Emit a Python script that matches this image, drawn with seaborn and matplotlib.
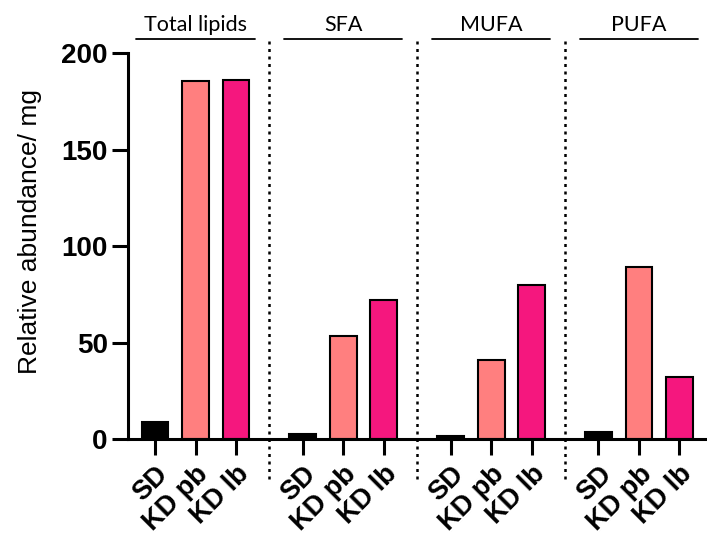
import numpy as np
import pandas as pd
import matplotlib
matplotlib.use("Agg")
import matplotlib.pyplot as plt
import matplotlib.transforms as mtransforms
import seaborn as sns

# Lipid classes and diets
classes = ["Total lipids", "SFA", "MUFA", "PUFA"]
diets = ["SD", "KD pb", "KD lb"]

# Relative abundance per mg for each class, in diet order
total_lipids = [8.8, 185.5, 186.0]
sfa = [2.5, 53.5, 72.0]
mufa = [1.5, 41.0, 79.6]
pufa = [3.5, 89.2, 32.3]

colors = {"SD": "#000000", "KD pb": "#FF7F7F", "KD lb": "#F5177E"}

GROUP_STEP = 3.65
values = [total_lipids, sfa, mufa, pufa]
rows = []
for g, (cls, vals) in enumerate(zip(classes, values)):
    for i, (d, v) in enumerate(zip(diets, vals)):
        rows.append({"class": cls, "diet": d, "pos": g * GROUP_STEP + i, "value": v})
df = pd.DataFrame(rows)

sns.set_theme(style="ticks")
plt.rcParams["font.family"] = ["Liberation Sans", "DejaVu Sans"]
plt.rcParams["text.color"] = "black"
plt.rcParams["axes.labelcolor"] = "black"
plt.rcParams["xtick.color"] = "black"
plt.rcParams["ytick.color"] = "black"

fig = plt.figure(figsize=(7.07, 5.41), dpi=100)
ax = fig.add_axes([128 / 707, 1 - 439 / 541, 1 - 128 / 707, (439 - 53.3) / 541])

sns.barplot(data=df, x="pos", y="value", hue="diet", palette=colors,
            native_scale=True, dodge=False, width=0.66, edgecolor="black",
            linewidth=1.5, saturation=1, legend=False, ax=ax)

ax.set_xlim(-0.667, 13.63)
ax.set_ylim(0, 200)
ax.set_yticks([0, 50, 100, 150, 200])
ax.set_yticklabels(["0", "50", "100", "150", "200"], fontsize=20, fontweight="bold")
ax.set_xticks(df["pos"])
ax.set_xticklabels(df["diet"], fontsize=19.5, fontweight="bold", rotation=45,
                   ha="right", va="center", rotation_mode="anchor")
ax.tick_params(axis="both", length=11.5, width=2.2, color="black", labelcolor="black")
ax.tick_params(axis="x", pad=14)
ax.tick_params(axis="y", pad=3)
shift = mtransforms.ScaledTranslation(9 / 100, 4 / 100, fig.dpi_scale_trans)
for lab in ax.get_xticklabels():
    lab.set_transform(lab.get_transform() + shift)
for s in ["top", "right"]:
    ax.spines[s].set_visible(False)
for s in ["left", "bottom"]:
    ax.spines[s].set_linewidth(2.2)
    ax.spines[s].set_color("black")
ax.set_xlabel("")
ax.set_ylabel("")

# dotted separators between lipid classes
for g in range(len(classes) - 1):
    xs = g * GROUP_STEP + 2 + (GROUP_STEP - 2) / 2
    ax.plot([xs, xs], [-21, 206.5], color="black", linestyle=(0, (1.2, 1.8)),
            linewidth=1.8, clip_on=False)

# class headers with underline
for g, cls in enumerate(classes):
    c = g * GROUP_STEP + 1
    ax.plot([c - 1.46, c + 1.46], [207.4, 207.4], color="black", linewidth=1.3,
            clip_on=False)
    ax.text(c, 211.5, cls, ha="center", va="baseline", fontsize=15.5,
            family=["Lato", "DejaVu Sans"])

fig.text(30 / 707, 1 - 231.5 / 541, "Relative abundance/ mg", rotation=90,
         ha="center", va="center", fontsize=19)

fig.savefig("out.png", dpi=100)
